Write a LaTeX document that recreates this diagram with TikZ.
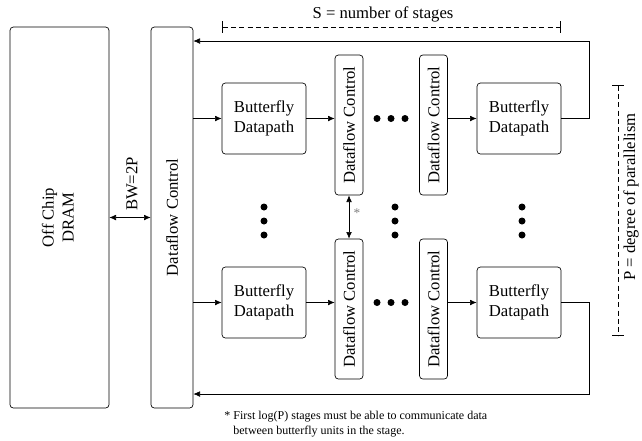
\documentclass[tikz,border=0pt]{standalone}
\usepackage{fontspec}
\setmainfont{Liberation Serif}
\usetikzlibrary{arrows.meta}

\tikzset{
    blk/.style={draw, rounded corners=2pt, inner sep=0pt, align=center},
    bfly/.style={blk, minimum width=50.4pt, minimum height=42.6pt},
    dflow/.style={blk, minimum width=16.8pt, minimum height=84pt},
    flow/.style={-{Latex[length=4pt,width=3.4pt]}},
    dflow2/.style={{Latex[length=4pt,width=3.4pt]}-{Latex[length=4pt,width=3.4pt]}},
    span/.style={densely dashed, {Bar[width=7pt]}-{Bar[width=7pt]}}
}
\newcommand{\dfc}{\rotatebox{90}{Dataflow Control}}
\newcommand{\dotsAt}[2]{\fill (#1,#2) circle (2.1pt);}
% one row of butterfly stages: name, row y, loop y
\newcommand{\drawStageRow}[3]{
    \node[bfly] (#1bfA) at (264,#2) {Butterfly\\Datapath};
    \node[dflow] (#1dcA) at (349,#2+6.5) {\dfc};
    \node[dflow] (#1dcB) at (433.5,#2+6.5) {\dfc};
    \node[bfly] (#1bfB) at (519,#2) {Butterfly\\Datapath};
    \coordinate (#1loop) at (589,#3);
    \draw[flow] (dcL.east |- #1bfA.west) -- (#1bfA.west);
    \draw[flow] (#1bfA.east) -- (#1bfA.east -| #1dcA.west);
    \draw[flow] (#1bfB.west -| #1dcB.east) -- (#1bfB.west);
    \draw[flow] (#1bfB.east) -| (#1loop) -- (#1loop -| dcL.east);
    \dotsAt{377}{#2}
    \dotsAt{391}{#2}
    \dotsAt{405}{#2}
}

\begin{document}
\begin{tikzpicture}[x=0.6pt, y=-0.6pt]
\useasboundingbox (0,0) rectangle (642,440);

% memory side
\node[blk, minimum width=59.4pt, minimum height=228.6pt] (dram) at (59.5,217.5)
    {\rotatebox{90}{\begin{tabular}{@{}c@{}}Off Chip\\DRAM\end{tabular}}};
\node[blk, minimum width=25.2pt, minimum height=228.6pt] (dcL) at (172,217.5) {\dfc};
\draw[dflow2] (dram.east) -- (dcL.west);
\node[rotate=90] (bw) at (132,184) {BW=2P};

% first and last row of butterflies
\drawStageRow{top}{118.5}{41}
\drawStageRow{bot}{302.5}{394}

% rows in between
\foreach \xd in {264,395,522}{
    \foreach \yd in {207,221,235}{
        \dotsAt{\xd}{\yd}
    }
}
\draw[dflow2] (topdcA.south) -- (botdcA.north);
\node[gray, font=\footnotesize] (star) at (357,213) {*};

% sizes
\coordinate (sL) at (222,27);
\coordinate (sR) at (561,27);
\draw[span] (sL) -- (sR);
\node (slabel) at (383,14) {S = number of stages};
\coordinate (pT) at (618,85);
\coordinate (pB) at (618,336);
\draw[span] (pT) -- (pB);
\node[rotate=90] (plabel) at (631,197) {P = degree of parallelism};

% footnote
\node[anchor=north west, align=left, inner sep=0pt, font=\fontsize{7.2}{9}\selectfont] (note) at (224,411)
    {* First log(P) stages must be able to communicate data\\
     \phantom{* }between butterfly units in the stage.};

\end{tikzpicture}
\end{document}
